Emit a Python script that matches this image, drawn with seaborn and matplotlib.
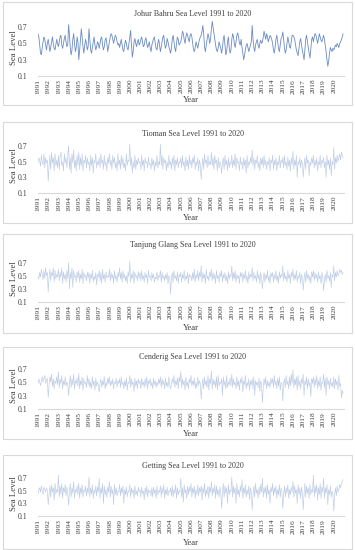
import pandas as pd
import numpy as np
import seaborn as sns
import matplotlib.pyplot as plt
from matplotlib.patches import Rectangle

# === DATA (monthly sea level, hundredths of metre) ===
johor_bahru = [
    62,58,48,38,36,45,52,58,55,48,42,50,
    55,48,40,45,52,58,50,44,42,48,55,50,
    46,52,58,60,48,44,50,56,60,52,46,48,
    73,60,45,36,42,55,62,50,40,45,58,52,
    30,42,55,68,58,45,38,48,55,50,42,46,
    68,55,42,38,45,52,58,48,42,46,52,50,
    44,50,56,58,48,42,46,54,57,50,40,46,
    52,58,62,60,55,50,56,60,58,52,48,50,
    45,50,55,48,42,40,48,54,50,44,42,50,
    58,66,48,33,40,52,56,50,46,52,55,48,
    50,55,58,52,46,48,54,57,50,45,48,52,
    44,40,48,52,56,58,50,44,42,50,55,48,
    40,46,52,58,60,50,44,48,56,52,46,42,
    38,45,55,60,52,44,40,50,58,55,48,50,
    52,58,65,62,55,50,58,63,60,55,52,60,
    62,58,50,42,40,45,52,48,44,50,55,58,
    60,65,72,62,45,40,48,55,62,58,50,55,
    68,77,70,62,55,48,42,40,45,52,48,44,
    38,45,55,60,48,36,40,52,58,45,38,42,
    55,62,58,50,45,52,60,63,58,50,48,55,
    45,38,30,35,42,48,50,45,40,44,48,52,
    72,55,45,40,48,52,55,48,44,50,54,50,
    52,58,65,60,55,62,58,52,56,60,58,55,
    50,42,38,45,55,60,52,44,40,48,56,58,
    64,55,45,38,42,50,58,52,46,44,52,60,
    60,58,55,48,42,38,35,44,52,56,48,42,
    35,30,42,55,60,52,45,38,32,44,55,58,
    52,58,62,60,55,50,56,62,58,54,52,56,
    60,55,48,40,30,22,28,38,45,42,40,44,
    42,45,48,46,50,48,45,50,52,55,58,62,
]

tioman = [
    48,55,52,44,58,50,46,60,42,55,48,52,
    25,45,58,40,62,48,55,38,60,45,52,42,
    58,40,55,62,45,50,38,60,48,55,42,58,
    70,40,55,35,60,48,65,42,52,38,58,45,
    62,40,55,45,60,38,52,48,58,42,55,46,
    50,38,58,45,55,35,52,48,60,42,50,46,
    55,42,60,48,52,40,58,45,50,38,55,48,
    60,45,52,40,58,48,55,42,50,38,60,46,
    52,40,58,45,55,42,48,38,60,45,52,50,
    72,45,55,35,50,42,58,40,52,46,55,48,
    50,40,58,45,52,38,55,48,50,42,56,46,
    48,40,55,45,52,38,50,44,58,42,50,46,
    72,45,58,40,55,48,52,38,50,42,58,46,
    50,40,55,45,58,38,52,46,55,42,50,48,
    55,42,58,45,50,38,56,44,52,40,58,46,
    52,42,55,48,58,40,50,45,55,38,52,46,
    27,45,55,40,60,48,52,42,58,45,50,46,
    62,45,55,40,58,48,52,38,55,42,50,46,
    35,48,55,40,58,45,52,38,55,42,50,46,
    58,42,52,45,60,40,55,48,50,38,56,46,
    50,40,55,45,52,35,58,42,50,46,55,48,
    65,45,55,40,52,48,58,42,50,38,55,46,
    55,42,58,45,52,40,50,46,55,38,52,48,
    58,40,52,45,55,38,50,46,58,42,52,48,
    55,42,58,45,50,40,56,44,52,38,55,46,
    63,40,52,45,58,30,50,46,55,42,52,48,
    30,45,55,40,58,48,52,32,50,45,55,48,
    58,42,52,45,55,38,50,46,58,42,52,48,
    55,42,50,30,58,45,52,40,55,32,50,46,
    68,40,55,48,58,50,55,60,52,62,58,55,
]

tanjung_glang = [
    50,45,55,48,60,52,44,58,46,62,50,55,
    25,48,60,42,55,50,62,40,58,45,52,48,
    60,42,55,48,62,38,56,45,52,40,58,46,
    70,30,55,45,62,32,58,48,50,40,56,46,
    58,40,52,45,60,38,55,48,50,42,56,46,
    55,38,52,46,58,40,50,44,55,36,52,48,
    58,42,55,38,60,45,52,40,56,46,50,48,
    60,42,55,46,52,38,58,45,50,40,55,48,
    62,45,55,40,58,46,52,42,50,38,56,48,
    72,40,52,46,58,38,55,48,50,42,56,46,
    55,42,58,45,50,40,55,46,52,38,58,48,
    50,42,55,46,52,40,48,45,56,42,50,48,
    58,40,55,46,50,42,52,45,55,38,50,48,
    22,45,55,40,58,46,50,42,56,38,52,48,
    55,40,52,46,58,42,50,45,55,38,52,48,
    50,42,55,45,60,40,52,46,58,42,55,48,
    65,40,55,46,52,38,60,45,50,42,56,48,
    60,42,55,45,52,38,58,46,50,40,55,48,
    58,40,52,46,55,42,50,38,56,45,52,48,
    65,42,55,45,58,40,52,46,50,38,55,48,
    55,40,52,46,58,42,50,38,56,45,52,48,
    62,42,55,46,50,40,58,45,52,38,55,46,
    30,45,55,40,52,46,58,42,50,38,55,48,
    55,40,52,45,58,42,50,38,56,46,52,48,
    65,42,55,45,50,40,58,46,52,38,55,48,
    60,42,52,45,58,40,50,46,55,38,52,48,
    28,45,55,40,58,46,52,42,50,38,56,48,
    58,42,55,46,52,40,56,45,50,38,55,48,
    27,45,52,40,58,46,50,42,55,32,52,48,
    65,42,55,48,58,50,52,60,55,58,52,55,
]

cenderig = [
    48,55,50,45,52,58,50,55,60,48,52,56,
    27,45,58,50,62,44,55,40,52,48,58,46,
    65,42,55,48,60,40,52,46,58,44,50,48,
    30,48,60,42,55,46,62,40,52,48,56,44,
    63,40,52,46,58,38,55,48,50,42,60,46,
    55,42,50,40,58,45,52,38,56,44,50,46,
    35,48,55,42,52,46,58,40,50,44,56,48,
    58,44,52,46,55,40,50,48,56,42,52,48,
    55,42,58,46,50,40,52,44,56,38,50,48,
    60,42,55,46,50,36,56,44,52,40,55,48,
    52,40,56,46,50,42,55,44,58,40,52,48,
    55,44,50,40,56,46,52,42,50,45,55,48,
    58,42,55,46,52,40,56,44,50,42,58,46,
    40,46,55,48,60,42,52,46,56,40,58,50,
    66,42,55,46,52,38,58,44,50,40,55,48,
    60,44,52,46,56,40,50,42,58,45,52,48,
    25,45,55,40,58,46,52,42,60,38,55,48,
    67,40,55,46,52,42,58,38,60,44,50,48,
    55,30,58,45,52,40,60,42,50,46,56,44,
    62,42,55,46,50,40,58,44,52,38,55,48,
    58,35,52,46,60,40,50,44,55,38,52,46,
    55,40,58,30,52,46,50,42,56,36,52,48,
    20,42,55,46,58,40,52,44,50,42,56,48,
    55,42,60,46,52,40,56,44,58,38,50,48,
    22,48,55,42,60,46,52,40,58,44,62,48,
    68,42,55,46,58,38,60,44,52,40,55,48,
    62,30,52,46,58,40,55,44,50,28,56,48,
    58,42,55,46,60,40,52,44,58,38,50,48,
    62,42,55,30,58,46,52,40,56,44,50,42,
    58,40,55,46,52,38,60,44,48,27,38,33,
]

getting = [
    45,52,55,48,58,50,44,56,52,48,55,50,
    28,45,58,40,60,48,55,35,62,45,52,48,
    75,40,58,45,62,38,55,48,60,42,56,46,
    27,48,62,40,55,46,65,38,52,48,58,44,
    62,38,55,46,60,40,52,48,58,42,55,46,
    72,40,55,45,60,38,52,46,58,42,56,48,
    70,38,55,46,62,30,58,44,52,40,56,48,
    65,40,58,45,52,28,60,44,55,42,50,48,
    60,42,55,46,58,30,52,44,56,40,50,48,
    60,40,55,46,52,38,58,44,50,42,56,48,
    52,40,56,46,50,36,55,44,58,40,52,48,
    50,42,55,40,56,46,52,38,58,44,50,48,
    58,40,55,46,60,38,52,44,56,42,50,48,
    55,42,58,40,52,46,60,38,55,44,50,48,
    70,40,55,32,60,46,52,38,58,44,56,48,
    62,40,55,46,58,38,52,44,60,42,55,48,
    58,35,55,46,62,40,52,44,58,38,56,48,
    65,42,55,46,60,38,58,44,52,40,56,48,
    22,48,62,40,58,46,55,30,60,44,52,48,
    72,40,58,46,55,30,62,44,52,40,58,48,
    68,38,55,46,60,40,52,44,58,36,55,48,
    20,45,58,40,62,46,52,38,56,44,60,48,
    70,40,55,46,58,38,60,44,52,30,56,48,
    62,42,55,46,58,38,52,44,60,40,55,48,
    22,46,58,40,55,46,60,38,52,44,56,48,
    65,40,58,46,52,30,60,44,55,38,56,48,
    20,45,62,40,58,46,55,38,60,44,52,48,
    75,40,58,46,60,35,55,44,62,38,56,48,
    70,38,55,46,60,28,52,44,58,40,50,46,
    18,45,55,42,58,48,52,60,55,62,65,68,
]

stations = ["Johur Bahru", "Tioman", "Tanjung Glang", "Cenderig", "Getting"]
series = [johor_bahru, tioman, tanjung_glang, cenderig, getting]
years = list(range(1991, 2021))

months = pd.date_range("1991-01-01", periods=360, freq="MS")

W, H = 355, 550
box_rows = [(2, 105), (122, 223), (234, 333), (347, 439), (455, 549)]
ax_rows = [(19, 76), (138, 193), (256, 302), (362, 409), (472, 516)]
title_y = [14, 134, 245, 357, 466]
year_y = [100, 218, 328, 434, 543]
ax_left, ax_right = 38, 344

sns.set_style("white")
plt.rcParams['font.family'] = ['Liberation Serif', 'DejaVu Serif']

fig = plt.figure(figsize=(W / 100, H / 100), dpi=100)

for i, (name, vals) in enumerate(zip(stations, series)):
    df = pd.DataFrame({"Date": months, "Sea Level": np.array(vals) / 100})

    top, bot = ax_rows[i]
    ax = fig.add_axes([ax_left / W, 1 - bot / H, (ax_right - ax_left) / W, (bot - top) / H])

    if i == 0:
        sns.lineplot(data=df, x="Date", y="Sea Level", ax=ax, color="#6a8bc2", linewidth=0.6)
    else:
        sns.lineplot(data=df, x="Date", y="Sea Level", ax=ax, color="#bccbe5", linewidth=0.45)

    ax.set_xlim(pd.Timestamp("1991-01-01"), pd.Timestamp("2021-01-01"))
    ax.set_ylim(0.1, 0.8)
    ax.set_yticks([0.1, 0.3, 0.5, 0.7])
    ax.set_yticklabels(["0.1", "0.3", "0.5", "0.7"])
    ax.set_xticks([pd.Timestamp(f"{y}-01-01") for y in years])
    ax.set_xticklabels([str(y) for y in years], rotation=90)
    ax.tick_params(axis="both", length=0, labelsize=5.6, colors="#404040")
    ax.tick_params(axis="x", labelsize=5.3, pad=2)
    ax.tick_params(axis="y", pad=8)
    ax.set_xlabel("")
    ax.set_ylabel("")
    for s in ["top", "left", "right"]:
        ax.spines[s].set_visible(False)
    ax.spines["bottom"].set_color("#d9d9d9")
    ax.spines["bottom"].set_linewidth(0.8)
    ax.patch.set_alpha(0)

    # titles and axis labels
    fig.text(0.5 * (ax_left + ax_right) / W + 0.005, 1 - title_y[i] / H, f"{name} Sea Level 1991 to 2020",
             ha="center", va="center", fontsize=5.8, color="#404040")
    fig.text((ax_left + ax_right) / 2 / W, 1 - year_y[i] / H, "Year",
             ha="center", va="center", fontsize=6.3, color="#404040")
    fig.text(14 / W, 1 - (top + bot) / 2 / H, "Sea Level", rotation=90,
             ha="center", va="center", fontsize=6.3, color="#404040")

    # chart border box
    btop, bbot = box_rows[i]
    fig.patches.append(Rectangle((3 / W, 1 - bbot / H), 349 / W, (bbot - btop) / H,
                                 transform=fig.transFigure, fill=False,
                                 edgecolor="#d9d9d9", linewidth=0.8))

plt.savefig("out.png", dpi=100)
